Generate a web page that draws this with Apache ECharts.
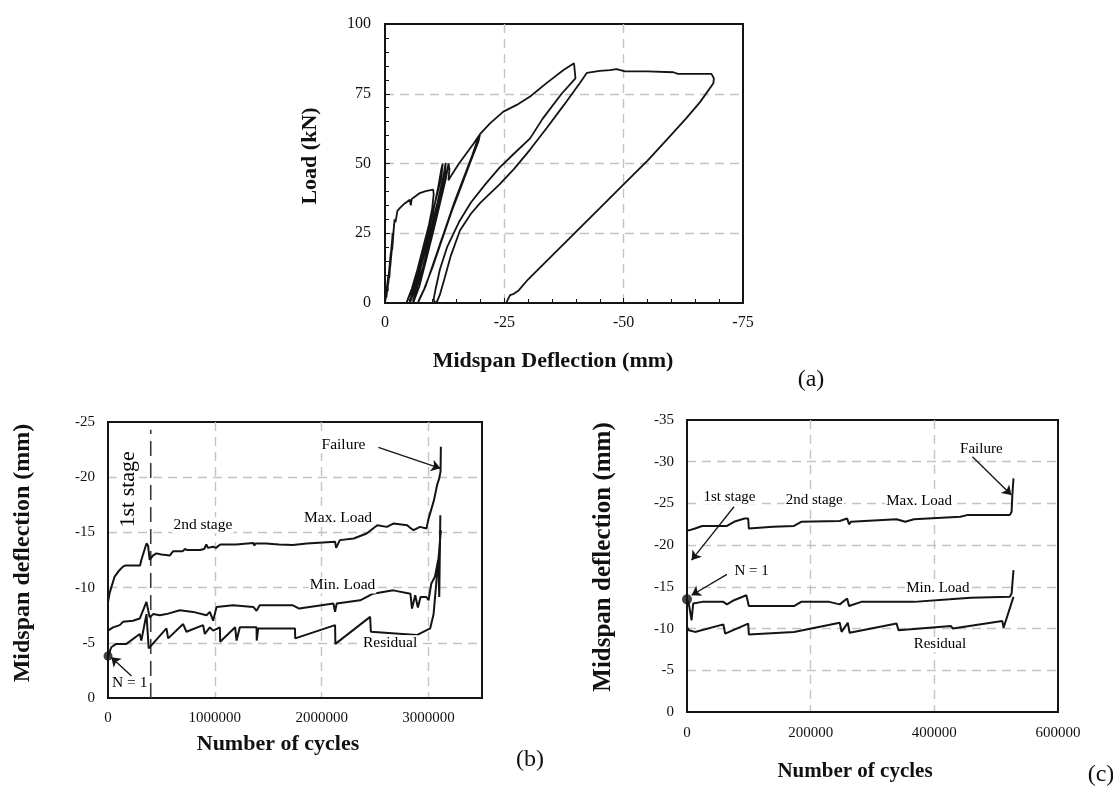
<!DOCTYPE html>
<html><head><meta charset="utf-8">
<script src="https://cdn.jsdelivr.net/npm/echarts@6/dist/echarts.min.js"></script>
<style>html,body{margin:0;padding:0;background:#fff}#c{width:1113px;height:789px}</style>
</head><body><div id="c"></div>
<script>
// ---------- (a) Load vs midspan deflection (deflection mm, load kN) ----------
const aInitial = [[0,0],[-0.4,6],[-0.1,1],[-0.7,10],[-0.3,2],[-1.0,14],[-0.5,4],[-1.2,18],[-0.7,7],[-1.4,21],[-0.9,9],[-1.6,25],[-1.1,13],[-1.9,28],[-1.5,19],[-2.0,30],[-2.2,29],[-2.6,33],[-3.1,34],[-4.0,35.5],[-5.2,37],[-5.4,35],[-5.6,37.3],[-7.3,39.4],[-8.5,40.1],[-10.1,40.6]];
const aUnload40 = [[-10.2,39],[-9.9,34],[-9.2,28],[-8.0,20],[-6.8,12],[-5.6,5],[-4.8,1.5],[-4.5,0]];
const aCycles50 = [[-4.7,0],[-5.5,4],[-7.0,12],[-8.5,22],[-10.0,32],[-11.2,42],[-11.8,48],[-12.1,50],[-12.4,49.5],[-11.8,45],[-10.5,36],[-9.0,25],[-7.5,14],[-6.0,5],[-5.3,1],[-5.2,0],[-5.4,0],[-6.5,6],[-8.0,16],[-9.5,26],[-11.0,36],[-12.2,45],[-12.7,50.2],[-13.0,50],[-12.6,45],[-11.2,35],[-9.5,24],[-8.0,13],[-6.6,5],[-5.9,1],[-5.9,0]];
const aCycles60 = [[-6.1,0],[-7.2,6],[-8.7,16],[-10.3,27],[-11.7,37],[-12.8,45],[-13.3,50],[-13.5,48],[-13.3,44],[-14.0,46],[-15.5,50],[-17.0,53.5],[-18.5,57],[-19.5,59.5],[-19.9,60.5],[-19.6,58],[-18.0,51],[-16.0,42],[-14.0,33],[-12.0,23],[-10.0,13],[-8.2,5],[-7.1,1],[-6.9,0],[-7.1,0],[-8.5,6],[-10.5,16],[-12.5,26],[-14.5,36],[-16.5,45],[-18.3,53],[-19.5,59],[-19.9,60.5]];
const aFailure = [[-22.0,64.4],[-24.8,68.6],[-27.6,71],[-30.4,74],[-33.9,78.9],[-37.4,83.5],[-39.6,85.9],[-39.9,86.2],[-39.9,80.5],[-37,75],[-33,66],[-30.4,59],[-27,53.5],[-24,48.5],[-21,42.5],[-18,36],[-15.5,29],[-13,20],[-11.5,12],[-10.6,5],[-10.2,1.5],[-10.4,0],[-10.9,0.5],[-11.5,3],[-12.5,9],[-13.8,17],[-15.7,26],[-18,32],[-20,36],[-24,42.5],[-27,48],[-30.4,55],[-34,63],[-37.5,71],[-40.9,79],[-42.3,82.5],[-45,83.2],[-47.1,83.5],[-48.5,83.8],[-50.3,83],[-55,83],[-60.4,82.7],[-61.4,82.1],[-68.4,82.1],[-68.9,80.5],[-68.8,78.8],[-66,72],[-63,66],[-59,58.5],[-55,51],[-49.2,41.2],[-45,34],[-40,25.5],[-35,17],[-30,8.5],[-28,4.5],[-27,3.3],[-26.2,2.8],[-25.8,1.5],[-25.4,0]];

// ---------- (b) deflection vs number of cycles ----------
const bMax = [[0,0],[0,-8.7],[15000,-9.5],[62000,-11.0],[100000,-11.5],[140000,-11.9],[160000,-12.0],[300000,-12.0],[312000,-12.5],[360000,-14.0],[375000,-13.8],[390000,-12.5],[420000,-12.9],[453000,-13.1],[500000,-13.0],[578000,-12.9],[610000,-13.3],[700000,-13.3],[720000,-13.5],[740000,-13.4],[860000,-13.4],[900000,-13.5],[920000,-13.9],[935000,-13.6],[984000,-13.7],[1000000,-13.8],[1010000,-13.6],[1050000,-13.9],[1200000,-13.9],[1360000,-14.05],[1370000,-13.8],[1380000,-14.0],[1480000,-14.0],[1600000,-13.9],[1730000,-13.85],[1860000,-14.0],[2125000,-14.15],[2135000,-13.6],[2170000,-14.3],[2300000,-14.45],[2420000,-14.9],[2520000,-15.65],[2610000,-15.5],[2670000,-15.8],[2800000,-15.65],[2830000,-15.4],[2860000,-15.2],[2920000,-15.5],[2980000,-15.35],[3000000,-16.25],[3050000,-17.9],[3080000,-19.3],[3090000,-19.2],[3100000,-19.9],[3112000,-20.5],[3115000,-22.75]];
const bMin = [[0,-3.8],[0,-6.1],[47000,-6.4],[110000,-6.6],[140000,-6.9],[234000,-7.0],[297000,-7.2],[360000,-8.7],[390000,-7.3],[422000,-7.6],[484000,-7.5],[547000,-7.6],[672000,-7.95],[797000,-7.8],[922000,-7.5],[953000,-7.8],[984000,-7.0],[1016000,-8.25],[1170000,-8.4],[1360000,-8.25],[1390000,-7.9],[1420000,-8.4],[1730000,-8.4],[1790000,-8.1],[2110000,-8.55],[2125000,-7.8],[2140000,-8.55],[2360000,-8.85],[2480000,-9.45],[2670000,-9.75],[2830000,-9.45],[2845000,-8.1],[2875000,-9.3],[2900000,-8.2],[2925000,-9.15],[2980000,-9.15],[3000000,-8.85],[3025000,-10.35],[3060000,-11.0],[3090000,-12.5],[3100000,-9.15],[3110000,-16.55]];
const bRes = [[0,-3.7],[30000,-4.6],[78000,-4.9],[172000,-4.9],[297000,-5.8],[312000,-5.2],[360000,-7.6],[381000,-4.5],[547000,-6.3],[563000,-5.4],[703000,-6.7],[734000,-6.0],[890000,-6.6],[906000,-5.8],[953000,-6.4],[984000,-6.1],[1047000,-6.4],[1050000,-5.1],[1190000,-6.4],[1203000,-5.2],[1234000,-6.4],[1390000,-6.4],[1392000,-5.2],[1406000,-6.3],[1750000,-6.3],[1752000,-5.4],[2125000,-6.6],[2128000,-4.9],[2453000,-7.35],[2460000,-6.0],[2890000,-5.7],[3015000,-6.3],[3047000,-7.6],[3080000,-11.3],[3100000,-13.4],[3115000,-15.2]];
const bFirstCycle = [0,-3.8];
const bStageBoundary = 400000;

// ---------- (c) deflection vs number of cycles ----------
const cMax = [[0,0],[0,-24.3],[0,-21.8],[4600,-21.8],[13000,-22.0],[24600,-22.3],[64600,-22.3],[76000,-22.8],[93000,-23.2],[99000,-23.2],[100000,-22.0],[139000,-22.2],[173000,-22.3],[184600,-22.8],[247000,-22.9],[259000,-23.2],[262000,-22.5],[265000,-22.8],[339000,-23.1],[353000,-22.8],[367000,-23.1],[442000,-23.4],[453000,-23.6],[522000,-23.6],[525000,-24.0],[526000,-25.8],[528000,-28.0]];
const cMin = [[0,-13.5],[2900,-13.0],[7400,-11.0],[10000,-13.0],[24600,-13.2],[58800,-13.2],[64600,-12.9],[76000,-13.4],[96000,-14.0],[99000,-13.9],[100000,-12.7],[173000,-12.7],[184600,-13.2],[230000,-13.2],[247000,-12.9],[259000,-13.6],[262000,-12.7],[282000,-13.2],[367000,-13.2],[425000,-13.5],[459000,-13.7],[522000,-13.8],[525000,-14.2],[527000,-14.0],[528000,-17.0]];
const cRes = [[0,-10.2],[2900,-9.8],[13000,-9.6],[58800,-10.5],[61700,-9.4],[99000,-10.6],[100000,-9.3],[173000,-9.6],[247000,-10.7],[250000,-9.6],[260000,-10.7],[263000,-9.5],[339000,-10.6],[342000,-9.8],[427000,-10.3],[430000,-10.0],[510000,-10.9],[512000,-10.1],[528000,-13.8]];
const cFirstCycle = [0,-13.5];

// annotations (data coordinates)
const bNotes = [
  {value:[2204000,-22.9], name:'Failure'},
  {value:[888000,-15.65], name:'2nd stage'},
  {value:[2153000,-16.3], name:'Max. Load'},
  {value:[2195000,-10.2], name:'Min. Load'},
  {value:[2640000,-4.95], name:'Residual'},
  {value:[203000,-1.33], name:'N = 1'}
];
const bStageNote = {value:[185000,-18.9], name:'1st stage'};
const bArrows = [
  [[2530000,-22.7],[3110000,-20.8]],
  [[220000,-2.0],[30000,-3.7]]
];
const cNotes = [
  {value:[476000,-31.5], name:'Failure'},
  {value:[68600,-25.8], name:'1st stage'},
  {value:[104600,-16.9], name:'N = 1'},
  {value:[205700,-25.4], name:'2nd stage'},
  {value:[375400,-25.3], name:'Max. Load'},
  {value:[405700,-14.9], name:'Min. Load'},
  {value:[409000,-8.1], name:'Residual'}
];
const cArrows = [
  [[461700,-30.6],[524600,-26.0]],
  [[76000,-24.6],[7400,-18.2]],
  [[64600,-16.5],[7400,-14.0]]
];

const FONT = 'Liberation Serif, Times New Roman, serif';
const INK = '#141414';
const gridLine = {show:true, showMinLine:false, showMaxLine:false, lineStyle:{color:'#c4c4c4', type:[9,6], width:1.4}};

function valueAxis(idx, min, max, interval, opts) {
  return Object.assign({
    type:'value', gridIndex:idx, min:min, max:max, interval:interval,
    axisLine:{show:true, onZero:false, lineStyle:{color:INK, width:2}},
    axisTick:{show:false},
    splitLine:gridLine,
    axisLabel:{fontFamily:FONT, fontSize:15, color:'#111', margin:13, formatter:v=>String(v)}
  }, opts||{});
}

const chart = echarts.init(document.getElementById('c'), null, {renderer:'canvas'});

const lineBase = (xi, data, w) => ({
  type:'line', xAxisIndex:xi, yAxisIndex:xi, data:data, showSymbol:false, symbol:'none',
  lineStyle:{color:INK, width:w||2}, animation:false, silent:true, z:3
});
const noteSeries = (xi, data, size, rotate) => ({
  type:'scatter', xAxisIndex:xi, yAxisIndex:xi, data:data, symbolSize:0,
  itemStyle:{color:'#fff', opacity:1}, silent:true, animation:false, z:5,
  label:{show:true, position:'inside', formatter:'{b}', fontFamily:FONT, fontSize:size, color:'#000',
    textBorderWidth:0, textShadowBlur:0, opacity:1,
    backgroundColor:'#fff', padding:[0,1], rotate:rotate||0}
});
const arrowSeries = (xi, arr) => ({
  type:'lines', coordinateSystem:'cartesian2d', xAxisIndex:xi, yAxisIndex:xi,
  data:arr.map(c=>({coords:c})), symbol:['none','arrow'], symbolSize:9,
  lineStyle:{color:INK, width:1.3, opacity:1}, silent:true, animation:false, z:6
});

const minorA = {show:true, splitNumber:5, length:4, lineStyle:{color:INK, width:1}};
const option = {
  animation:false,
  backgroundColor:'#fff',
  grid:[
    {left:385, top:24, width:358, height:279, show:true, borderColor:INK, borderWidth:2},
    {left:108, top:422, width:374, height:276, show:true, borderColor:INK, borderWidth:2},
    {left:687, top:420, width:371, height:292, show:true, borderColor:INK, borderWidth:2}
  ],
  xAxis:[
    valueAxis(0,-75,0,25,{inverse:true, axisTick:{show:true, inside:true, length:5, lineStyle:{color:INK}}, minorTick:minorA,
      axisLabel:{fontFamily:FONT, fontSize:16, color:'#111', margin:12, formatter:v=>String(v)}}),
    valueAxis(1,0,3500000,1000000,{axisLabel:{fontFamily:FONT, fontSize:15, color:'#111', margin:13, showMaxLabel:false, formatter:v=>String(v)}}),
    valueAxis(2,0,600000,200000,{axisLabel:{fontFamily:FONT, fontSize:15, color:'#111', margin:14, formatter:v=>String(v)}})
  ],
  yAxis:[
    valueAxis(0,0,100,25,{axisTick:{show:true, inside:true, length:5, lineStyle:{color:INK}}, minorTick:minorA,
      axisLabel:{fontFamily:FONT, fontSize:16, color:'#111', margin:14, formatter:v=>String(v)}}),
    valueAxis(1,-25,0,5,{inverse:true}),
    valueAxis(2,-35,0,5,{inverse:true})
  ],
  series:[
    lineBase(0, [].concat(aInitial, aUnload40, aCycles50, aCycles60, aFailure), 1.8),
    lineBase(1, bMax), lineBase(1, bMin), lineBase(1, bRes),
    {type:'line', xAxisIndex:1, yAxisIndex:1, data:[[bStageBoundary,0],[bStageBoundary,-24.3]], showSymbol:false, symbol:'none',
      lineStyle:{color:'#3a3a3a', width:1.6, type:[15,7]}, silent:true, animation:false, z:2},
    {type:'scatter', xAxisIndex:1, yAxisIndex:1, data:[bFirstCycle], symbolSize:9, itemStyle:{color:INK}, silent:true, z:4},
    noteSeries(1, bNotes, 15.5),
    noteSeries(1, [bStageNote], 22, 90),
    arrowSeries(1, bArrows),
    lineBase(2, cMax), lineBase(2, cMin), lineBase(2, cRes),
    {type:'scatter', xAxisIndex:2, yAxisIndex:2, data:[cFirstCycle], symbolSize:10, itemStyle:{color:INK}, silent:true, z:4},
    noteSeries(2, cNotes, 15),
    arrowSeries(2, cArrows)
  ],
  graphic:[
    {type:'text', x:310, y:156, rotation:Math.PI/2, style:{text:'Load (kN)', font:'bold 22px '+FONT, fill:'#111', align:'center', verticalAlign:'middle'}},
    {type:'text', x:553, y:361, style:{text:'Midspan Deflection (mm)', font:'bold 22px '+FONT, fill:'#111', align:'center', verticalAlign:'middle'}},
    {type:'text', x:811, y:380, style:{text:'(a)', font:'24px '+FONT, fill:'#111', align:'center', verticalAlign:'middle'}},
    {type:'text', x:23, y:553, rotation:Math.PI/2, style:{text:'Midspan deflection (mm)', font:'bold 24px '+FONT, fill:'#111', align:'center', verticalAlign:'middle'}},
    {type:'text', x:278, y:744, style:{text:'Number of cycles', font:'bold 22px '+FONT, fill:'#111', align:'center', verticalAlign:'middle'}},
    {type:'text', x:530, y:760, style:{text:'(b)', font:'24px '+FONT, fill:'#111', align:'center', verticalAlign:'middle'}},
    {type:'text', x:604, y:557, rotation:Math.PI/2, style:{text:'Midspan deflection (mm)', font:'bold 25px '+FONT, fill:'#111', align:'center', verticalAlign:'middle'}},
    {type:'text', x:855, y:772, style:{text:'Number of cycles', font:'bold 21px '+FONT, fill:'#111', align:'center', verticalAlign:'middle'}},
    {type:'text', x:1101, y:775, style:{text:'(c)', font:'24px '+FONT, fill:'#111', align:'center', verticalAlign:'middle'}}
  ]
};
chart.setOption(option);
</script></body></html>
